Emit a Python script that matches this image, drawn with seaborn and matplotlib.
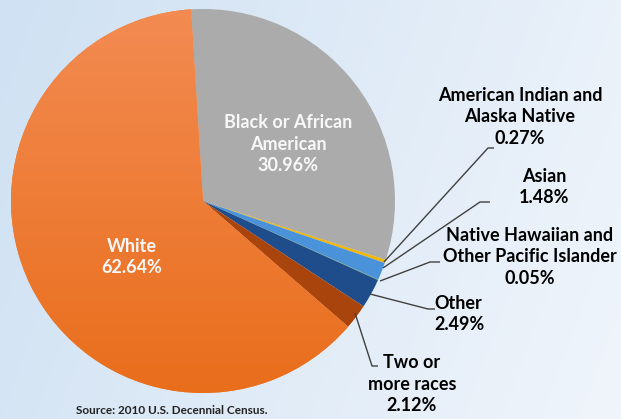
import numpy as np
import matplotlib
matplotlib.use("Agg")
import matplotlib.pyplot as plt
import seaborn as sns
from matplotlib.colors import LinearSegmentedColormap

# ---- data ----
categories = ["Black or African American", "American Indian and Alaska Native", "Asian",
              "Native Hawaiian and Other Pacific Islander", "Other", "Two or more races", "White"]
shares = [30.96, 0.27, 1.48, 0.05, 2.49, 2.12, 62.64]
label_texts = ["Black or African\nAmerican\n30.96%",
               "American Indian and\nAlaska Native\n0.27%",
               "Asian\n1.48%",
               "Native Hawaiian and\nOther Pacific Islander\n0.05%",
               "Other\n2.49%",
               "Two or\nmore races\n2.12%",
               "White\n62.64%"]
source_text = "Source: 2010 U.S. Decennial Census."

colors = ["#ABABAB", "#F2B705", "#4A92DA", "#6AA84F", "#1F4C8A", "#A9450C", "#F07E32"]

sns.set_theme(style="white")
plt.rcParams['font.family'] = ['Lato', 'DejaVu Sans']

W, H = 621, 419
fig = plt.figure(figsize=(W / 100, H / 100), dpi=100)

# background gradient
bg = fig.add_axes([0, 0, 1, 1])
xx, yy = np.meshgrid(np.linspace(0, 1, 300), np.linspace(0, 1, 200))
t = 0.8 * xx + 0.2 * yy
bg_cmap = LinearSegmentedColormap.from_list("bg", ["#CFE1F3", "#F0F5FB"])
bg.imshow(t, cmap=bg_cmap, aspect="auto", extent=[0, 1, 0, 1], origin="upper")
bg.set_axis_off()

ax = fig.add_axes([0, 0, 1, 1])
ax.patch.set_alpha(0)
ax.set_xlim(0, W)
ax.set_ylim(0, H)
ax.set_aspect("equal")
ax.set_axis_off()

cx, cy, r = 203, H - 201, 192
wedges, _ = ax.pie(shares, colors=colors, startangle=93.6, counterclock=False,
                   center=(cx, cy), radius=r, frame=True,
                   wedgeprops=dict(linewidth=0))
ax.set_xlim(0, W)
ax.set_ylim(0, H)
ax.set_axis_off()

# gradient fill for the White wedge
wcmap = LinearSegmentedColormap.from_list("w", ["#E96E1C", "#F38B52"])
grad = np.linspace(0, 1, 256).reshape(-1, 1)
im = ax.imshow(grad, cmap=wcmap, extent=[cx - r, cx + r, cy - r, cy + r],
               origin="lower", aspect="auto", zorder=wedges[-1].get_zorder() + 0.1)
im.set_clip_path(wedges[-1])

def Y(py):
    return H - py

txt_kw = dict(fontsize=13, fontweight="bold", ha="center", va="center", linespacing=1.33)
ax.text(288, Y(144), label_texts[0], color="#F8F8F8", zorder=10, **txt_kw)
ax.text(132, Y(257), label_texts[6], color="#F8F8F8", zorder=10, **txt_kw)
ax.text(520, Y(117), label_texts[1], color="black", zorder=10, **txt_kw)
ax.text(544, Y(187), label_texts[2], color="black", zorder=10, **txt_kw)
ax.text(530, Y(257), label_texts[3], color="black", zorder=10, **txt_kw)
ax.text(434, Y(314), label_texts[4], color="black", zorder=10,
        **{**txt_kw, "ha": "left"})
ax.text(412, Y(384), label_texts[5], color="black", zorder=10, **txt_kw)
ax.text(172, Y(410), source_text, color="#222222", fontsize=8.5, fontweight="bold",
        ha="center", va="center", zorder=10)

# leader lines (pixel coordinates)
leaders = [
    [(384, 262), (488, 148), (494, 148)],
    [(383, 268), (480, 202), (490, 202)],
    [(380, 281), (430, 262), (440, 262)],
    [(370, 294), (428, 309), (435, 309)],
    [(355, 313), (372, 366), (378, 366)],
]
for pts in leaders:
    xs = [p[0] for p in pts]
    ys = [Y(p[1]) for p in pts]
    ax.plot(xs, ys, color="#404040", lw=1.0, zorder=9, solid_capstyle="butt")

fig.savefig("out.png", dpi=100)
